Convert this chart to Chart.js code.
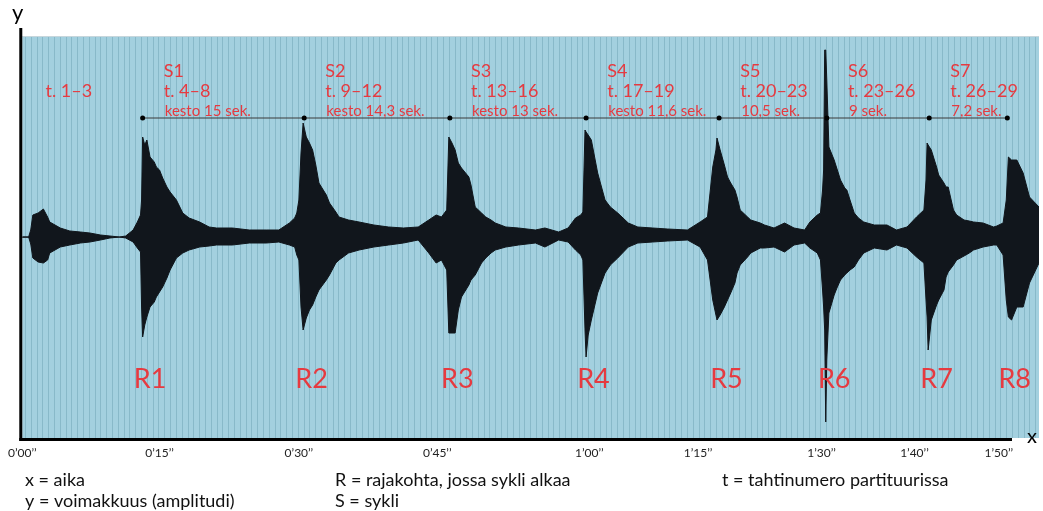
<!DOCTYPE html>
<html>
<head>
<meta charset="utf-8">
<script src="https://cdn.jsdelivr.net/npm/chart.js@4.4.1/dist/chart.umd.min.js"></script>
<style>
  body { margin: 0; background: #fff; }
  #wrap { width: 1043px; height: 511px; }
</style>
</head>
<body>
<div id="wrap"><canvas id="wave" width="1043" height="511"></canvas></div>
<script>
// time in seconds, amplitude envelope (percent of full scale)
const times = [0, 0.6, 0.8, 1.0, 1.5, 2.0, 2.4, 2.6, 3.1, 3.6, 4.5, 5.5, 6.4, 7.4, 8.3, 9.2, 9.8, 10.5, 10.9, 11.2,
  11.3, 11.4, 11.6, 11.8, 12.1, 12.5, 12.7, 13.0, 13.3, 13.7, 14.0, 14.6, 15.2, 15.8, 16.8, 17.7, 18.4, 19.9, 21.5, 23.1,
  24.3, 25.3, 25.8, 26.0, 26.2, 26.4, 26.6, 26.9, 27.2, 27.5, 27.8, 28.1, 28.8, 29.1, 29.7, 30.0, 30.9, 31.9, 33.3, 34.7,
  36.1, 37.5, 38.5, 39.2, 39.7, 40.2, 40.4, 40.7, 41.0, 41.3, 41.6, 42.3, 42.5, 42.9, 43.5, 43.9, 44.4, 44.8, 45.8, 47.0,
  48.6, 49.5, 50.8, 51.7, 52.4, 52.9, 53.1, 53.3, 53.4, 53.6, 53.9, 54.5, 55.2, 55.7, 56.4, 57.4, 58.3, 59.7, 61.1, 63.0,
  64.2, 64.9, 65.4, 65.7, 65.8, 66.1, 66.5, 66.8, 67.1, 67.5, 67.7, 68.0, 68.7, 69.0, 69.9, 70.3, 71.2, 72.2, 73.1, 74.1,
  74.6, 75.3, 75.6, 75.8, 75.9, 76.0, 76.1, 76.2, 76.4, 76.9, 77.2, 77.5, 77.9, 78.1, 78.4, 78.8, 79.2, 79.7, 80.7, 81.9,
  82.8, 83.8, 84.7, 85.4, 85.6, 85.7, 85.8, 86.1, 86.6, 86.8, 87.3, 87.5, 87.7, 88.2, 88.5, 89.2, 89.7, 90.1, 91.0, 92.0,
  92.3, 92.9, 93.2, 93.4, 93.7, 94.2, 94.8, 95.4, 96.3];
const upper = [0, 0, 3.5, 11, 12, 14, 10, 7.5, 6, 4.5, 3, 2.5, 2, 1, 0.5, 0, 0.5, 3.5, 7.5, 11,
  18.5, 50, 46, 48.5, 40, 37.5, 35, 33.5, 29.5, 25, 22.5, 18.5, 12, 9.5, 7.5, 5, 4.5, 4.5, 3.5, 3.5,
  3.5, 7, 9.5, 12, 18.5, 42, 57, 50, 47, 43.5, 36, 27, 21, 17, 12.5, 10, 8.5, 7.5, 6, 5,
  4.5, 5, 8.5, 11, 10, 13.5, 50, 47, 43.5, 37, 34.5, 30, 26, 15, 12, 10, 8.5, 7, 5, 4.5,
  3.5, 4.5, 2.5, 4.5, 9.5, 11, 12.5, 53.5, 52.5, 51, 48.5, 32, 18.5, 15, 12, 7, 5, 4.5, 4, 3.5,
  7.5, 10, 35, 43.5, 49.5, 43.5, 36, 30, 27, 23.5, 20, 13.5, 10, 8.5, 7, 6, 4.5, 7, 4.5, 3.5,
  7.5, 11, 12, 23.5, 33.5, 93.5, 93.5, 78.5, 45, 38.5, 33.5, 28.5, 24.5, 23.5, 18.5, 12, 9.5, 7.5, 6, 6,
  3.5, 5, 10, 13.5, 28.5, 47, 46, 43.5, 35, 31, 27, 25, 25, 13.5, 11, 8.5, 8, 7.5, 7, 5,
  5.5, 7, 18.5, 40, 38.5, 38.5, 32, 20, 15];
const lower = [0, 0, -3.5, -10.5, -12.5, -13, -11.5, -8, -6.5, -5, -4, -3, -2.5, -1.5, -0.5, 0, -0.5, -2.5, -5.5, -7.5,
  -35, -50, -44, -40, -35, -32.5, -30, -27.5, -25, -20.5, -16.5, -10.5, -8, -6.5, -5, -4.5, -4, -4, -3, -3,
  -2.5, -4, -5, -9, -11.5, -35, -46.5, -40.5, -36.5, -34, -30, -26.5, -21.5, -19, -13, -11.5, -8, -6.5, -5, -4,
  -3, -1.5, -8, -13, -11.5, -16.5, -48, -48, -48, -36.5, -30, -24, -21.5, -19, -13, -10.5, -8, -6.5, -5, -4,
  -3, -5, -1.5, -2.5, -6.5, -9, -11.5, -46.5, -60, -49, -41.5, -28, -18, -14, -10.5, -5, -3, -2.5, -2, -1.5,
  -5, -11.5, -31.5, -39, -41.5, -39, -35, -31.5, -28, -23, -18, -14, -10, -8, -5.5, -5.5, -5, -7.5, -4, -3,
  -5.5, -8, -11.5, -26.5, -35, -46.5, -92.5, -61.5, -38, -29, -25, -21.5, -19, -18, -16.5, -15, -11.5, -8, -5.5, -6.5,
  -4, -5.5, -10, -13, -31.5, -40, -56.5, -41.5, -34, -31.5, -26.5, -20, -17.5, -14, -11.5, -9.5, -8, -6.5, -5, -4,
  -4, -9, -31.5, -40, -41.5, -35, -35, -23, -13];

// cycle boundaries R1..R8 (seconds) and the cycle texts between them
const boundaryTimes = [11.4, 26.7, 40.5, 53.4, 66.0, 76.2, 85.9, 93.3];
const boundaryNames = ['R1', 'R2', 'R3', 'R4', 'R5', 'R6', 'R7', 'R8'];
const cycleNames = ['S1', 'S2', 'S3', 'S4', 'S5', 'S6', 'S7'];
const cycleBars = ['t. 4–8', 't. 9–12', 't. 13–16', 't. 17–19', 't. 20–23', 't. 23–26', 't. 26–29'];
const cycleLengths = ['kesto 15 sek.', 'kesto 14,3 sek.', 'kesto 13 sek.', 'kesto 11,6 sek.', '10,5 sek.', '9 sek.', '7,2 sek.'];
const introBars = 't. 1–3';

const tickTimes = [0, 13.0, 26.2, 39.3, 53.7, 64.0, 75.7, 84.5, 92.5];
const tickLabels = ['0’00’’', '0’15’’', '0’30’’', '0’45’’', '1’00’’', '1’15’’', '1’30’’', '1’40’’', '1’50’’'];

const XMAX = 96.3;
const YMIN = -100.5, YMAX = 104.5, PANEL_TOP = 100.5;
const LINE_LEVEL = 59.5;   // height of the cycle line
const RLABEL_LEVEL = -75.5;
const RED = '#e63a40';
const WAVE = '#11161c';

const decor = {
    id: 'decor',
    beforeDatasetsDraw(chart) {
        const { ctx, chartArea: a, scales: { x, y } } = chart;
        const top = Math.round(y.getPixelForValue(PANEL_TOP));
        ctx.save();
        ctx.fillStyle = '#a3d0df';
        ctx.fillRect(a.left, top, a.right - a.left, a.bottom - top);
        // the fine vertical stripes of the waveform view
        ctx.strokeStyle = 'rgba(70,125,145,0.28)';
        ctx.lineWidth = 1;
        for (let t = 0.25; t < XMAX; t += 0.55) {
            const px = Math.round(x.getPixelForValue(t)) + 0.5;
            ctx.beginPath();
            ctx.moveTo(px, top);
            ctx.lineTo(px, a.bottom);
            ctx.stroke();
        }
        ctx.strokeStyle = '#c6d6dc';
        ctx.beginPath();
        ctx.moveTo(a.left, top + 0.5);
        ctx.lineTo(a.right, top + 0.5);
        ctx.stroke();
        const c = Math.round(y.getPixelForValue(0)) + 0.5;
        ctx.strokeStyle = '#6f8189';
        ctx.beginPath();
        ctx.moveTo(a.left, c);
        ctx.lineTo(a.right, c);
        ctx.stroke();
        ctx.restore();
    },
    afterDatasetsDraw(chart) {
        const { ctx, chartArea: a, scales: { x, y } } = chart;
        ctx.save();
        // axes
        ctx.fillStyle = '#000';
        ctx.fillRect(a.left - 3, a.top, 3, a.bottom - a.top + 3);
        ctx.fillRect(a.left - 3, a.bottom, x.getPixelForValue(XMAX) - 27 - a.left + 3, 3);
        ctx.font = '22px Lato';
        ctx.fillText('y', 12, 20);
        ctx.font = '20px Lato';
        ctx.fillText('x', 1027, 443);

        // cycle texts
        const lineY = y.getPixelForValue(LINE_LEVEL);
        ctx.fillStyle = RED;
        ctx.textAlign = 'left';
        ctx.font = '18px Lato';
        ctx.fillText(introBars, x.getPixelForValue(2.2), lineY - 21);
        cycleNames.forEach((name, i) => {
            const px = x.getPixelForValue(boundaryTimes[i] + 2.0);
            ctx.font = '18px Lato';
            ctx.fillText(name, px, lineY - 41);
            ctx.fillText(cycleBars[i], px, lineY - 21);
            ctx.font = '15px Lato';
            ctx.fillText(cycleLengths[i], px + 1, lineY - 2);
        });
        ctx.font = '27px Lato';
        ctx.textAlign = 'center';
        const rY = y.getPixelForValue(RLABEL_LEVEL);
        boundaryNames.forEach((name, i) => {
            ctx.fillText(name, x.getPixelForValue(boundaryTimes[i] + 0.7), rY);
        });

        // explanations under the chart
        ctx.fillStyle = '#111';
        ctx.textAlign = 'left';
        ctx.font = '18px Lato';
        ctx.fillText('x = aika', 25, 486);
        ctx.fillText('y = voimakkuus (amplitudi)', 25, 507);
        ctx.fillText('R = rajakohta, jossa sykli alkaa', 335, 486);
        ctx.fillText('S = sykli', 335, 507);
        ctx.fillText('t = tahtinumero partituurissa', 722, 486);
        ctx.restore();
    }
};

new Chart(document.getElementById('wave'), {
    type: 'line',
    data: {
        datasets: [
            {
                data: boundaryTimes.map(t => ({ x: t, y: LINE_LEVEL })),
                borderColor: '#3b3b3b',
                borderWidth: 1,
                pointRadius: 2.5,
                pointBackgroundColor: '#000',
                pointBorderWidth: 0,
                fill: false
            },
            {
                data: times.map((t, i) => ({ x: t, y: upper[i] })),
                borderColor: WAVE,
                backgroundColor: WAVE,
                borderWidth: 1,
                pointRadius: 0,
                tension: 0,
                fill: '+1'
            },
            {
                data: times.map((t, i) => ({ x: t, y: lower[i] })),
                borderColor: WAVE,
                borderWidth: 1,
                pointRadius: 0,
                tension: 0,
                fill: false
            }
        ]
    },
    options: {
        responsive: false,
        animation: false,
        layout: { padding: { left: 22, top: 28, right: 0, bottom: 0 } },
        plugins: { legend: { display: false }, tooltip: { enabled: false } },
        scales: {
            x: {
                type: 'linear',
                min: 0,
                max: XMAX,
                grid: { display: false, drawTicks: false },
                border: { display: false },
                afterFit: s => { s.height = 73; },
                afterBuildTicks: s => { s.ticks = tickTimes.map(v => ({ value: v })); },
                ticks: {
                    autoSkip: false,
                    maxRotation: 0,
                    padding: 8,
                    color: '#222',
                    font: { family: 'Lato', size: 12 },
                    callback: (v, i) => tickLabels[i]
                }
            },
            y: { display: false, min: YMIN, max: YMAX }
        }
    },
    plugins: [decor]
});
</script>
</body>
</html>
